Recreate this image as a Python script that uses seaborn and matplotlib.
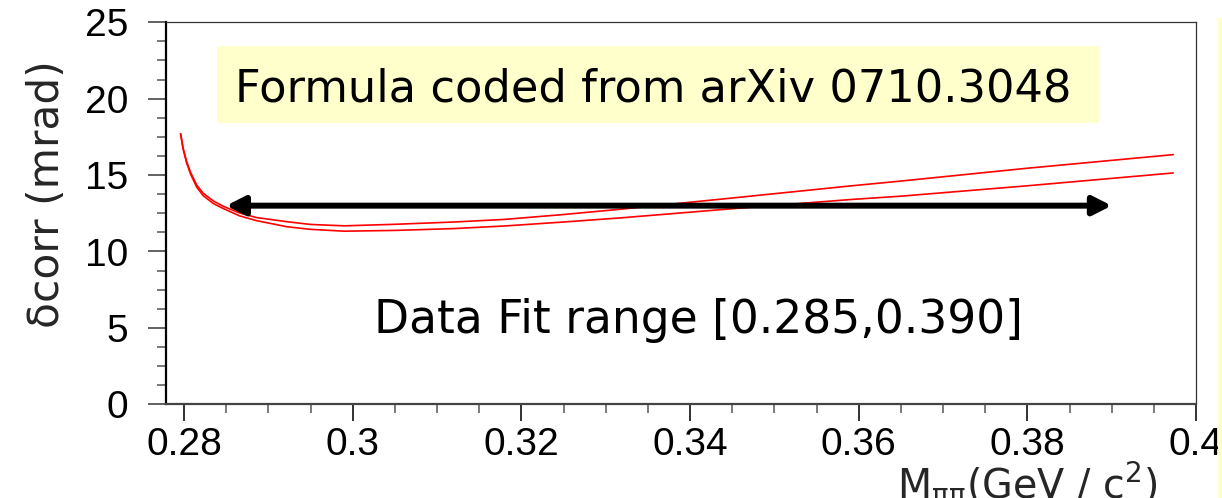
import matplotlib
matplotlib.use("Agg")
import matplotlib.pyplot as plt
import numpy as np
import pandas as pd
import seaborn as sns
from matplotlib.ticker import MultipleLocator
from matplotlib.patches import Rectangle, FancyArrowPatch

# ---------------- data ----------------
mass = [0.2796, 0.2799, 0.2803, 0.2808, 0.2815, 0.2823, 0.2835, 0.2847,
        0.2866, 0.2886, 0.2922, 0.2950, 0.2990, 0.3050, 0.3120, 0.3180,
        0.3250, 0.3320, 0.3450, 0.3590, 0.3650, 0.3800, 0.3973]
curve_upper = [17.7, 16.75, 15.9, 15.15, 14.35, 13.80, 13.30, 12.95,
               12.52, 12.22, 11.95, 11.77, 11.68, 11.78, 11.93, 12.10,
               12.42, 12.78, 13.50, 14.29, 14.61, 15.45, 16.34]
curve_lower = [17.7, 16.70, 15.82, 15.04, 14.22, 13.64, 13.13, 12.80,
               12.33, 12.02, 11.62, 11.45, 11.33, 11.38, 11.50, 11.67,
               11.93, 12.21, 12.80, 13.40, 13.62, 14.30, 15.14]
fit_range = [0.285, 0.390]
arrow_level = 13.0
title_text = "Formula coded from arXiv 0710.3048"
range_text = "Data Fit range [0.285,0.390]"
x_ticks = [0.28, 0.30, 0.32, 0.34, 0.36, 0.38, 0.40]
x_tick_labels = ["0.28", "0.3", "0.32", "0.34", "0.36", "0.38", "0.4"]
y_ticks = [0, 5, 10, 15, 20, 25]
y_tick_labels = ["0", "5", "10", "15", "20", "25"]

# ---------------- style ----------------
sns.set_theme(style="ticks")
plt.rcParams['font.family'] = ['Liberation Sans', 'DejaVu Sans']
plt.rcParams['mathtext.fontset'] = 'dejavusans'

W, H = 1222, 498
fig = plt.figure(figsize=(W / 100, H / 100), dpi=100)
fig.patch.set_facecolor('white')
L, R, T, B = 166, 1196, 22.3, 404.3
ax = fig.add_axes([L / W, 1 - B / H, (R - L) / W, (B - T) / H])
ax.set_facecolor('white')

n = len(mass)
df = pd.DataFrame({
    'mass': mass + mass,
    'dcorr': curve_upper + curve_lower,
    'curve': ['upper'] * n + ['lower'] * n,
})
sns.lineplot(data=df, x='mass', y='dcorr', hue='curve', units='curve',
             palette={'upper': 'red', 'lower': 'red'}, estimator=None,
             sort=False, lw=1.2, legend=False, ax=ax)

ax.set_xlim(0.28 - 18 / 8433, 0.40)
ax.set_ylim(0, 25)
ax.set_xticks(x_ticks, x_tick_labels)
ax.set_yticks(y_ticks, y_tick_labels)
ax.xaxis.set_minor_locator(MultipleLocator(0.005))
ax.yaxis.set_minor_locator(MultipleLocator(1.25))

ax.tick_params(axis='y', which='major', direction='out', length=13, width=1.3,
               color='#555555', labelsize=28, pad=14, labelcolor='black')
ax.tick_params(axis='y', which='minor', direction='out', length=6.5, width=1.1,
               color='#555555')
ax.tick_params(axis='x', which='major', direction='out', length=12.5, width=1.3,
               color='#222222', labelsize=28, pad=4, labelcolor='black')
ax.tick_params(axis='x', which='minor', direction='out', length=6.5, width=1.1,
               color='#555555')

for side in ['top', 'right']:
    ax.spines[side].set_visible(True)
    ax.spines[side].set_linewidth(0.9)
    ax.spines[side].set_color('#333333')
ax.spines['left'].set_linewidth(1.6)
ax.spines['left'].set_color('black')
ax.spines['bottom'].set_linewidth(1.6)
ax.spines['bottom'].set_color('#444444')

# axis labels
ax.set_ylabel('δcorr (mrad)', fontsize=30.5, family='DejaVu Sans')
ax.yaxis.label.set_va('center')
ax.yaxis.set_label_coords((47 - L) / (R - L), (B - 194) / (B - T))
ax.set_xlabel(r'M$_{\mathrm{\pi\pi}}$(GeV / c$^{2}$)', fontsize=28.5,
              family='DejaVu Sans')
ax.xaxis.label.set_ha('right')
ax.xaxis.label.set_va('top')
ax.xaxis.set_label_coords((1157 - L) / (R - L), (B - 459) / (B - T))


def ax_x(px):
    return (px - L) / (R - L)


def ax_y(py):
    return (B - py) / (B - T)


# yellow title box
box = Rectangle((ax_x(216.7), ax_y(122.7)), ax_x(1099) - ax_x(216.7),
                ax_y(46) - ax_y(122.7), transform=ax.transAxes,
                facecolor='#ffffcc', edgecolor='none', zorder=1)
ax.add_patch(box)
ax.text(ax_x(653), ax_y(101.7), title_text, transform=ax.transAxes,
        ha='center', va='baseline', fontsize=32.2, family='DejaVu Sans',
        color='black', zorder=2)
ax.text(ax_x(698), ax_y(333), range_text, transform=ax.transAxes,
        ha='center', va='baseline', fontsize=32.8, family='DejaVu Sans',
        color='black', zorder=2)

# fit range arrow
arrow = FancyArrowPatch((fit_range[0], arrow_level), (fit_range[1], arrow_level),
                        arrowstyle='<|-|>,head_length=0.55,head_width=0.28',
                        mutation_scale=20, lw=4.3, color='black',
                        shrinkA=0, shrinkB=0, zorder=3)
ax.add_patch(arrow)

# clipped yellow strip at right figure edge
fig.patches.append(Rectangle((1218 / W, 0), 4 / W, 1 - 18 / H,
                             transform=fig.transFigure, facecolor='#ffffcc',
                             edgecolor='none'))

fig.savefig('out.png', dpi=100)
